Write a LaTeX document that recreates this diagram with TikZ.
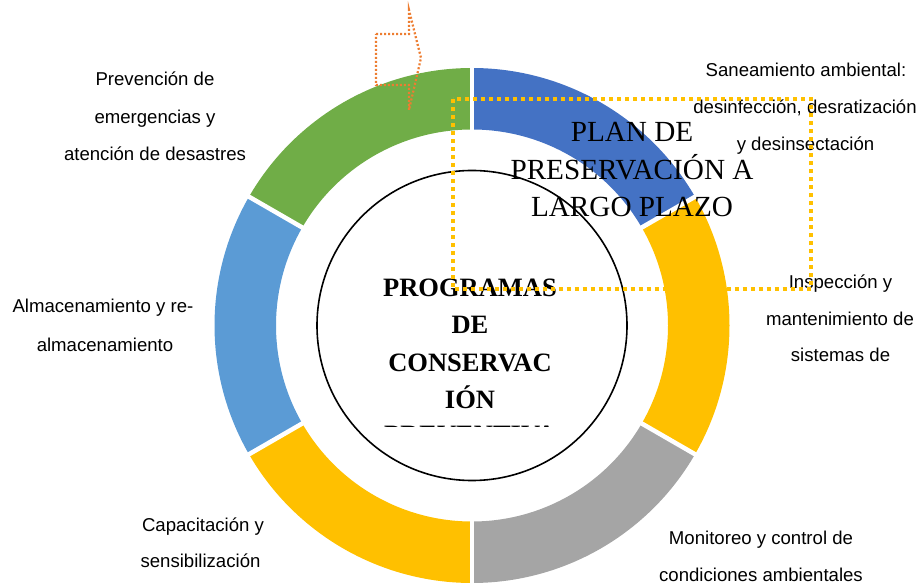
\documentclass[tikz,border=0pt]{standalone}
\usepackage{fontspec}
\setmainfont{Liberation Serif}
\newfontfamily\arialf{Liberation Sans}
\definecolor{cblue}{HTML}{4472C4}
\definecolor{cyell}{HTML}{FFC000}
\definecolor{cgray}{HTML}{A5A5A5}
\definecolor{clblue}{HTML}{5B9BD5}
\definecolor{cgreen}{HTML}{70AD47}
\definecolor{corange}{HTML}{ED7D31}
\begin{document}
\begin{tikzpicture}[x=1pt,y=1pt,
  lbl/.style={anchor=base, inner sep=0pt, font=\arialf\fontsize{18.6}{22}\selectfont},
  bigtxt/.style={anchor=base, inner sep=0pt, font=\fontsize{29.2}{35}\selectfont},
  ctrtxt/.style={anchor=base, inner sep=0pt, font=\bfseries\fontsize{26.5}{32}\selectfont},
  gapline/.style={white, line width=4.5pt},
  dotrect/.style={cyell, line width=3.8pt, dash pattern=on 4pt off 4pt},
  dotarrow/.style={corange, line width=2.2pt, dash pattern=on 2pt off 2pt, line join=miter}]
\useasboundingbox (0,0) rectangle (918,586);
\coordinate (c) at (472,260.5);
% ring
\begin{scope}[shift={(c)}]
  \fill[cblue]  (30:257.5) arc[start angle=30,end angle=90,radius=257.5] -- (90:196) arc[start angle=90,end angle=30,radius=196] -- cycle;
  \fill[cyell]  (-30:257.5) arc[start angle=-30,end angle=30,radius=257.5] -- (30:196) arc[start angle=30,end angle=-30,radius=196] -- cycle;
  \fill[cgray]  (-90:257.5) arc[start angle=-90,end angle=-30,radius=257.5] -- (-30:196) arc[start angle=-30,end angle=-90,radius=196] -- cycle;
  \fill[cyell]  (-150:257.5) arc[start angle=-150,end angle=-90,radius=257.5] -- (-90:196) arc[start angle=-90,end angle=-150,radius=196] -- cycle;
  \fill[clblue] (150:257.5) arc[start angle=150,end angle=210,radius=257.5] -- (210:196) arc[start angle=210,end angle=150,radius=196] -- cycle;
  \fill[cgreen] (90:257.5) arc[start angle=90,end angle=150,radius=257.5] -- (150:196) arc[start angle=150,end angle=90,radius=196] -- cycle;
  \foreach \a in {30,-30,-90,-150,150,90}
    \draw[gapline] (\a:193) -- (\a:261);
\end{scope}
% inner circle
\draw[line width=1.6pt] (c) circle[radius=155];
% centre text
\node[ctrtxt] (c1) at (470,289.5) {PROGRAMAS};
\node[ctrtxt] (c2) at (470,252.1) {DE};
\node[ctrtxt] (c3) at (470,214.7) {CONSERVAC};
\node[ctrtxt] (c4) at (470,177.3) {IÓN};
\begin{scope}
  \clip (300,159.5) rectangle (640,175);
  \node[ctrtxt] (c5) at (470,142.2) {PREVENTIVA};
\end{scope}
% labels
\node[lbl] (a1) at (155,500) {Prevención de};
\node[lbl] (a2) at (155,462.5) {emergencias y};
\node[lbl] (a3) at (155,425) {atención de desastres};
\node[lbl] (b1) at (806,509.5) {Saneamiento ambiental:};
\node[lbl] (b2) at (805,472.5) {desinfección, desratización};
\node[lbl] (b3) at (805.5,435.5) {y desinsectación};
\node[lbl] (d1) at (840.5,297.5) {Inspección y};
\node[lbl] (d2) at (840,260.5) {mantenimiento de};
\node[lbl] (d3) at (840.5,224) {sistemas de};
\node[lbl] (e1) at (103,273) {Almacenamiento y re-};
\node[lbl] (e2) at (105,234) {almacenamiento};
\node[lbl] (f1) at (203,54.3) {Capacitación y};
\node[lbl] (f2) at (200.5,18) {sensibilización};
\node[lbl] (g1) at (761,41) {Monitoreo y control de};
\node[lbl] (g2) at (761,4) {condiciones ambientales};
% big text
\node[bigtxt] (p1) at (632,444.3) {PLAN DE};
\node[bigtxt] (p2) at (632,406.7) {PRESERVACIÓN A};
\node[bigtxt] (p3) at (632,369.3) {LARGO PLAZO};
% dotted rectangle
\draw[dotrect] (452.7,486.7) rectangle (810.7,296.7);
% dotted arrow
\draw[dotarrow] (376,552) -- (409,552) -- (409,576) -- (421,528) -- (409,476) -- (409,501) -- (376,501) -- cycle;
\end{tikzpicture}
\end{document}
